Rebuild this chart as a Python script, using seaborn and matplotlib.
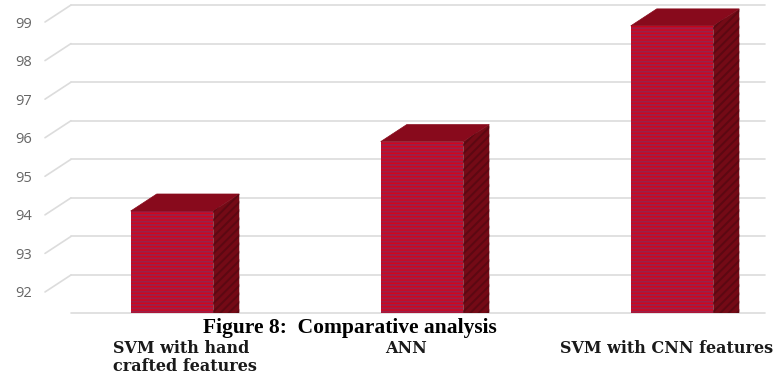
import matplotlib
matplotlib.use("Agg")
import matplotlib.pyplot as plt
import matplotlib.transforms as mtransforms
from matplotlib.patches import Polygon
import seaborn as sns

# Chart data
methods = ["SVM with hand\ncrafted features", "ANN", "SVM with CNN features"]
accuracy = [94.1, 95.9, 98.9]
ytick_values = [92, 93, 94, 95, 96, 97, 98, 99]
caption = "Figure 8:  Comparative analysis"

sns.set_style("white")
plt.rcParams["hatch.linewidth"] = 1.4

W, H = 777, 374
fig = plt.figure(figsize=(W / 100, H / 100), dpi=100)
ax = fig.add_axes([45 / W, 61 / H, 720 / W, 313 / H])

FRONT = "#d4041a"
STRIPE = "#9a2048"
TOP = "#880a1c"
SIDE = "#740a16"
SIDE_STRIPE = "#5c0812"
GRID = "#dcdcdc"

sns.barplot(x=methods, y=accuracy, ax=ax, width=0.33, color=FRONT,
            saturation=1, zorder=3)
ax.set_xlim(-0.508, 2.372)
ax.set_ylim(91.455, 99.571)
x0, x1 = ax.get_xlim()
floor = ax.get_ylim()[0]

# depth of the pseudo-3D box, 26 px right and 17 px up, in data units
p0 = ax.transData.transform((0, 92))
q = ax.transData.inverted().transform((p0[0] + 26, p0[1] + 17))
ddx, ddy = q[0], q[1] - 92

# back-wall gridlines with their slanted side-wall segment
for v in ytick_values:
    ax.plot([x0, x0 + ddx], [v, v + ddy], color=GRID, lw=1.2,
            clip_on=False, zorder=0.5)
    ax.plot([x0 + ddx, x1], [v + ddy, v + ddy], color=GRID, lw=1.2,
            clip_on=False, zorder=0.5)
ax.plot([x0 + ddx, x1], [floor, floor], color=GRID, lw=1.2,
        clip_on=False, zorder=0.5)

# striped front faces plus top and side faces of each column
for bar in ax.patches:
    bar.set_hatch("-----")
    bar.set_edgecolor(STRIPE)
    bar.set_linewidth(0)
    xl = bar.get_x()
    xr = xl + bar.get_width()
    v = bar.get_y() + bar.get_height()
    top = Polygon([(xl, v), (xr, v), (xr + ddx, v + ddy), (xl + ddx, v + ddy)],
                  closed=True, facecolor=TOP, edgecolor=TOP, lw=0.5, zorder=3)
    side = Polygon([(xr, v), (xr + ddx, v + ddy), (xr + ddx, floor - 1),
                    (xr, floor - 1)],
                   closed=True, facecolor=SIDE, edgecolor=SIDE_STRIPE,
                   lw=0, hatch="////", zorder=3)
    ax.add_patch(top)
    ax.add_patch(side)

for s in ax.spines.values():
    s.set_visible(False)

ax.set_yticks(ytick_values)
ax.set_yticklabels([str(v) for v in ytick_values])
ax.tick_params(axis="y", length=0, pad=9.4, labelsize=10.5,
               labelcolor="#666666")
for lab in ax.get_yticklabels():
    lab.set_fontfamily("Open Sans")

# category labels, placed under each column
ax.set_xticks([])
ax.set_xlabel("")
ax.set_ylabel("")
label_shift_px = [-59, -37, -112]
base = mtransforms.blended_transform_factory(ax.transData, ax.transAxes)
for i, (name, shift) in enumerate(zip(methods, label_shift_px)):
    tr = base + mtransforms.ScaledTranslation(shift / 100, -27 / 100,
                                              fig.dpi_scale_trans)
    ax.text(i, 0, name, transform=tr, ha="left", va="top",
            fontfamily="DejaVu Serif", fontweight="bold", fontsize=11.5,
            color="#1a1a1a", linespacing=1.1, clip_on=False)

fig.text(350 / W, 1 - 328 / H, caption, ha="center", va="center",
         fontfamily="Liberation Serif", fontweight="bold", fontsize=15.5,
         color="black")

fig.savefig("out.png", dpi=100)
